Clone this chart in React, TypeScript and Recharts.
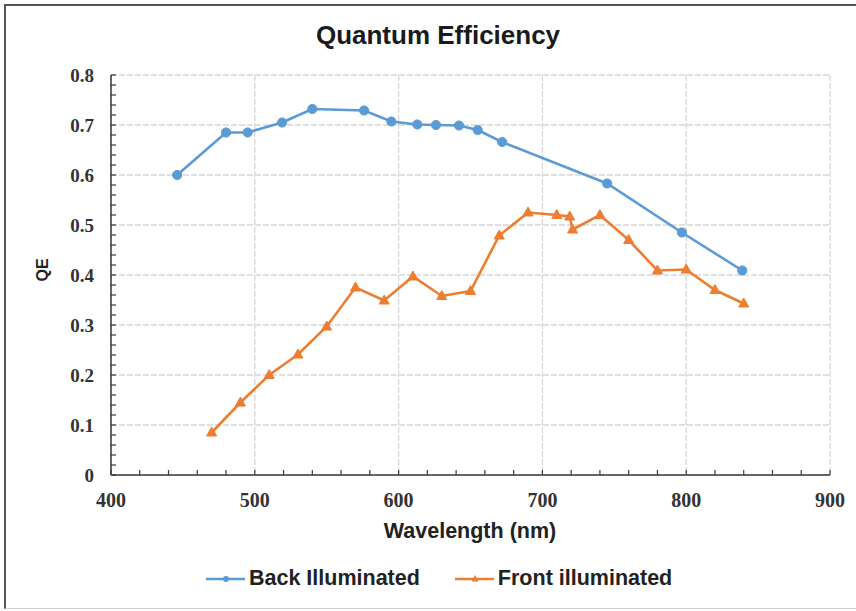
import React from 'react';
import { LineChart, Line, XAxis, YAxis, CartesianGrid, Legend } from 'recharts';

// Quantum efficiency vs wavelength, back vs front illuminated

const backWavelength = [446, 480, 495, 519, 540, 576, 595, 613, 626, 642, 655, 672, 745, 797, 839];
const backQE = [0.6, 0.685, 0.685, 0.705, 0.732, 0.729, 0.707, 0.701, 0.7, 0.699, 0.69, 0.666, 0.583, 0.485, 0.409];

const frontWavelength = [470, 490, 510, 530, 550, 570, 590, 610, 630, 650, 670, 690, 710, 719, 721, 740, 760, 780, 800, 820, 840];
const frontQE = [0.085, 0.145, 0.2, 0.241, 0.297, 0.375, 0.349, 0.397, 0.358, 0.368, 0.479, 0.525, 0.52, 0.517, 0.491, 0.52, 0.47, 0.409, 0.411, 0.37, 0.343];

const X_DOMAIN: [number, number] = [400, 900];
const Y_DOMAIN: [number, number] = [0, 0.8];
const xMajorTicks = [400, 500, 600, 700, 800, 900];
const yMajorTicks = [0, 0.1, 0.2, 0.3, 0.4, 0.5, 0.6, 0.7, 0.8];
const xMinorTicks = Array.from({ length: 26 }, (_, i) => 400 + i * 20);
const yMinorTicks = Array.from({ length: 41 }, (_, i) => Math.round(i * 2) / 100);

const BLUE = '#5B9BD5';
const ORANGE = '#ED7D31';
const AXIS = '#3a3a3a';
const GRID = '#d6d6d6';
const SANS = '"Liberation Sans", Arial, sans-serif';
const SERIF = '"Liberation Serif", "Times New Roman", serif';

const backData = backWavelength.map((wl, i) => ({ wl, qe: backQE[i] }));
const frontData = frontWavelength.map((wl, i) => ({ wl, qe: frontQE[i] }));

const isMajor = (v: number, step: number) => Math.abs(v / step - Math.round(v / step)) < 1e-6;

const YTick = ({ x, y, payload }: any) => {
  const v = payload.value as number;
  return (
    <g>
      <line x1={x} x2={x + 5} y1={y} y2={y} stroke={AXIS} strokeWidth={1.2} />
      {isMajor(v, 0.1) && (
        <text x={x - 17} y={y} dy={6.5} textAnchor="end" fontFamily={SERIF} fontWeight="bold" fontSize={19} fill="#333">
          {v === 0 ? '0' : v.toFixed(1)}
        </text>
      )}
    </g>
  );
};

const XTick = ({ x, y, payload }: any) => {
  const v = payload.value as number;
  return (
    <g>
      <line x1={x} x2={x} y1={y} y2={y - 5} stroke={AXIS} strokeWidth={1.2} />
      {isMajor(v, 100) && (
        <text x={x} y={y + 32} textAnchor="middle" fontFamily={SERIF} fontWeight="bold" fontSize={20} fill="#333">
          {v}
        </text>
      )}
    </g>
  );
};

const CircleDot = ({ cx, cy }: any) => <circle cx={cx} cy={cy} r={4.6} fill={BLUE} stroke={BLUE} strokeWidth={1} />;

const TriangleDot = ({ cx, cy }: any) => (
  <path d={`M${cx},${cy - 5.5} L${cx + 5},${cy + 3.5} L${cx - 5},${cy + 3.5} Z`} fill={ORANGE} stroke={ORANGE} strokeWidth={1} />
);

const legendItems = [
  { name: 'Back Illuminated', color: BLUE, shape: 'circle', gap: 35 },
  { name: 'Front illuminated', color: ORANGE, shape: 'triangle', gap: 0 },
];

const renderLegend = () => (
  <div style={{ display: 'flex', alignItems: 'center' }}>
    {legendItems.map((item) => (
      <div key={item.name} style={{ display: 'flex', alignItems: 'center', marginRight: item.gap }}>
        <svg width={40} height={14}>
          <line x1={0} x2={39} y1={7} y2={7} stroke={item.color} strokeWidth={2.5} />
          {item.shape === 'circle' ? (
            <circle cx={20} cy={7} r={3} fill={item.color} />
          ) : (
            <path d="M20,3 L23.5,9.5 L16.5,9.5 Z" fill={item.color} />
          )}
        </svg>
        <span style={{ fontFamily: SANS, fontWeight: 'bold', fontSize: 21.5, color: '#222', marginLeft: 3 }}>{item.name}</span>
      </div>
    ))}
  </div>
);

// grid lines only at the major ticks, placed within the plot offset
const gridRows = ({ offset }: any) =>
  yMajorTicks.map((v) => offset.top + offset.height * (1 - (v - Y_DOMAIN[0]) / (Y_DOMAIN[1] - Y_DOMAIN[0])));
const gridCols = ({ offset }: any) =>
  xMajorTicks.map((v) => offset.left + (offset.width * (v - X_DOMAIN[0])) / (X_DOMAIN[1] - X_DOMAIN[0]));

export default function App() {
  return (
    <div style={{ position: 'absolute', left: 0, top: 0, width: 856, height: 611, background: '#fff', overflow: 'hidden' }}>
      <div
        style={{
          position: 'absolute',
          left: 4,
          top: 4,
          width: 870,
          height: 602,
          borderTop: '2px solid #555',
          borderLeft: '2px solid #555',
          borderBottom: '1px solid #cfcfcf',
        }}
      />
      <LineChart width={856} height={611} margin={{ top: 75, right: 26, bottom: 135, left: 110 }}>
        <CartesianGrid
          stroke={GRID}
          strokeWidth={1.3}
          strokeDasharray="6 2"
          horizontalCoordinatesGenerator={gridRows}
          verticalCoordinatesGenerator={gridCols}
        />
        <XAxis
          dataKey="wl"
          type="number"
          domain={X_DOMAIN}
          ticks={xMinorTicks}
          interval={0}
          height={1}
          tickSize={0}
          tickMargin={0}
          tickLine={false}
          tick={<XTick />}
          axisLine={{ stroke: AXIS, strokeWidth: 1.5 }}
          allowDuplicatedCategory={false}
        />
        <YAxis
          type="number"
          domain={Y_DOMAIN}
          ticks={yMinorTicks}
          interval={0}
          width={1}
          tickSize={0}
          tickMargin={0}
          tickLine={false}
          tick={<YTick />}
          axisLine={{ stroke: AXIS, strokeWidth: 1.5 }}
        />
        <Legend
          layout="horizontal"
          verticalAlign="middle"
          align="center"
          content={renderLegend}
          wrapperStyle={{ top: 566, left: 206, width: 620 }}
        />
        <Line
          data={backData}
          dataKey="qe"
          name="Back Illuminated"
          stroke={BLUE}
          strokeWidth={2.6}
          dot={<CircleDot />}
          activeDot={false}
          isAnimationActive={false}
        />
        <Line
          data={frontData}
          dataKey="qe"
          name="Front illuminated"
          stroke={ORANGE}
          strokeWidth={2.6}
          dot={<TriangleDot />}
          activeDot={false}
          isAnimationActive={false}
        />
      </LineChart>
      <svg width={856} height={611} style={{ position: 'absolute', left: 0, top: 0, pointerEvents: 'none' }}>
        <text x={438} y={44} textAnchor="middle" fontFamily={SANS} fontWeight="bold" fontSize={26} fill="#1a1a1a">
          Quantum Efficiency
        </text>
        <text x={470} y={538} textAnchor="middle" fontFamily={SANS} fontWeight="bold" fontSize={21.5} fill="#222">
          Wavelength (nm)
        </text>
        <text x={48} y={270} textAnchor="middle" transform="rotate(-90 48 270)" fontFamily={SANS} fontWeight="bold" fontSize={16} fill="#222">
          QE
        </text>
      </svg>
    </div>
  );
}
